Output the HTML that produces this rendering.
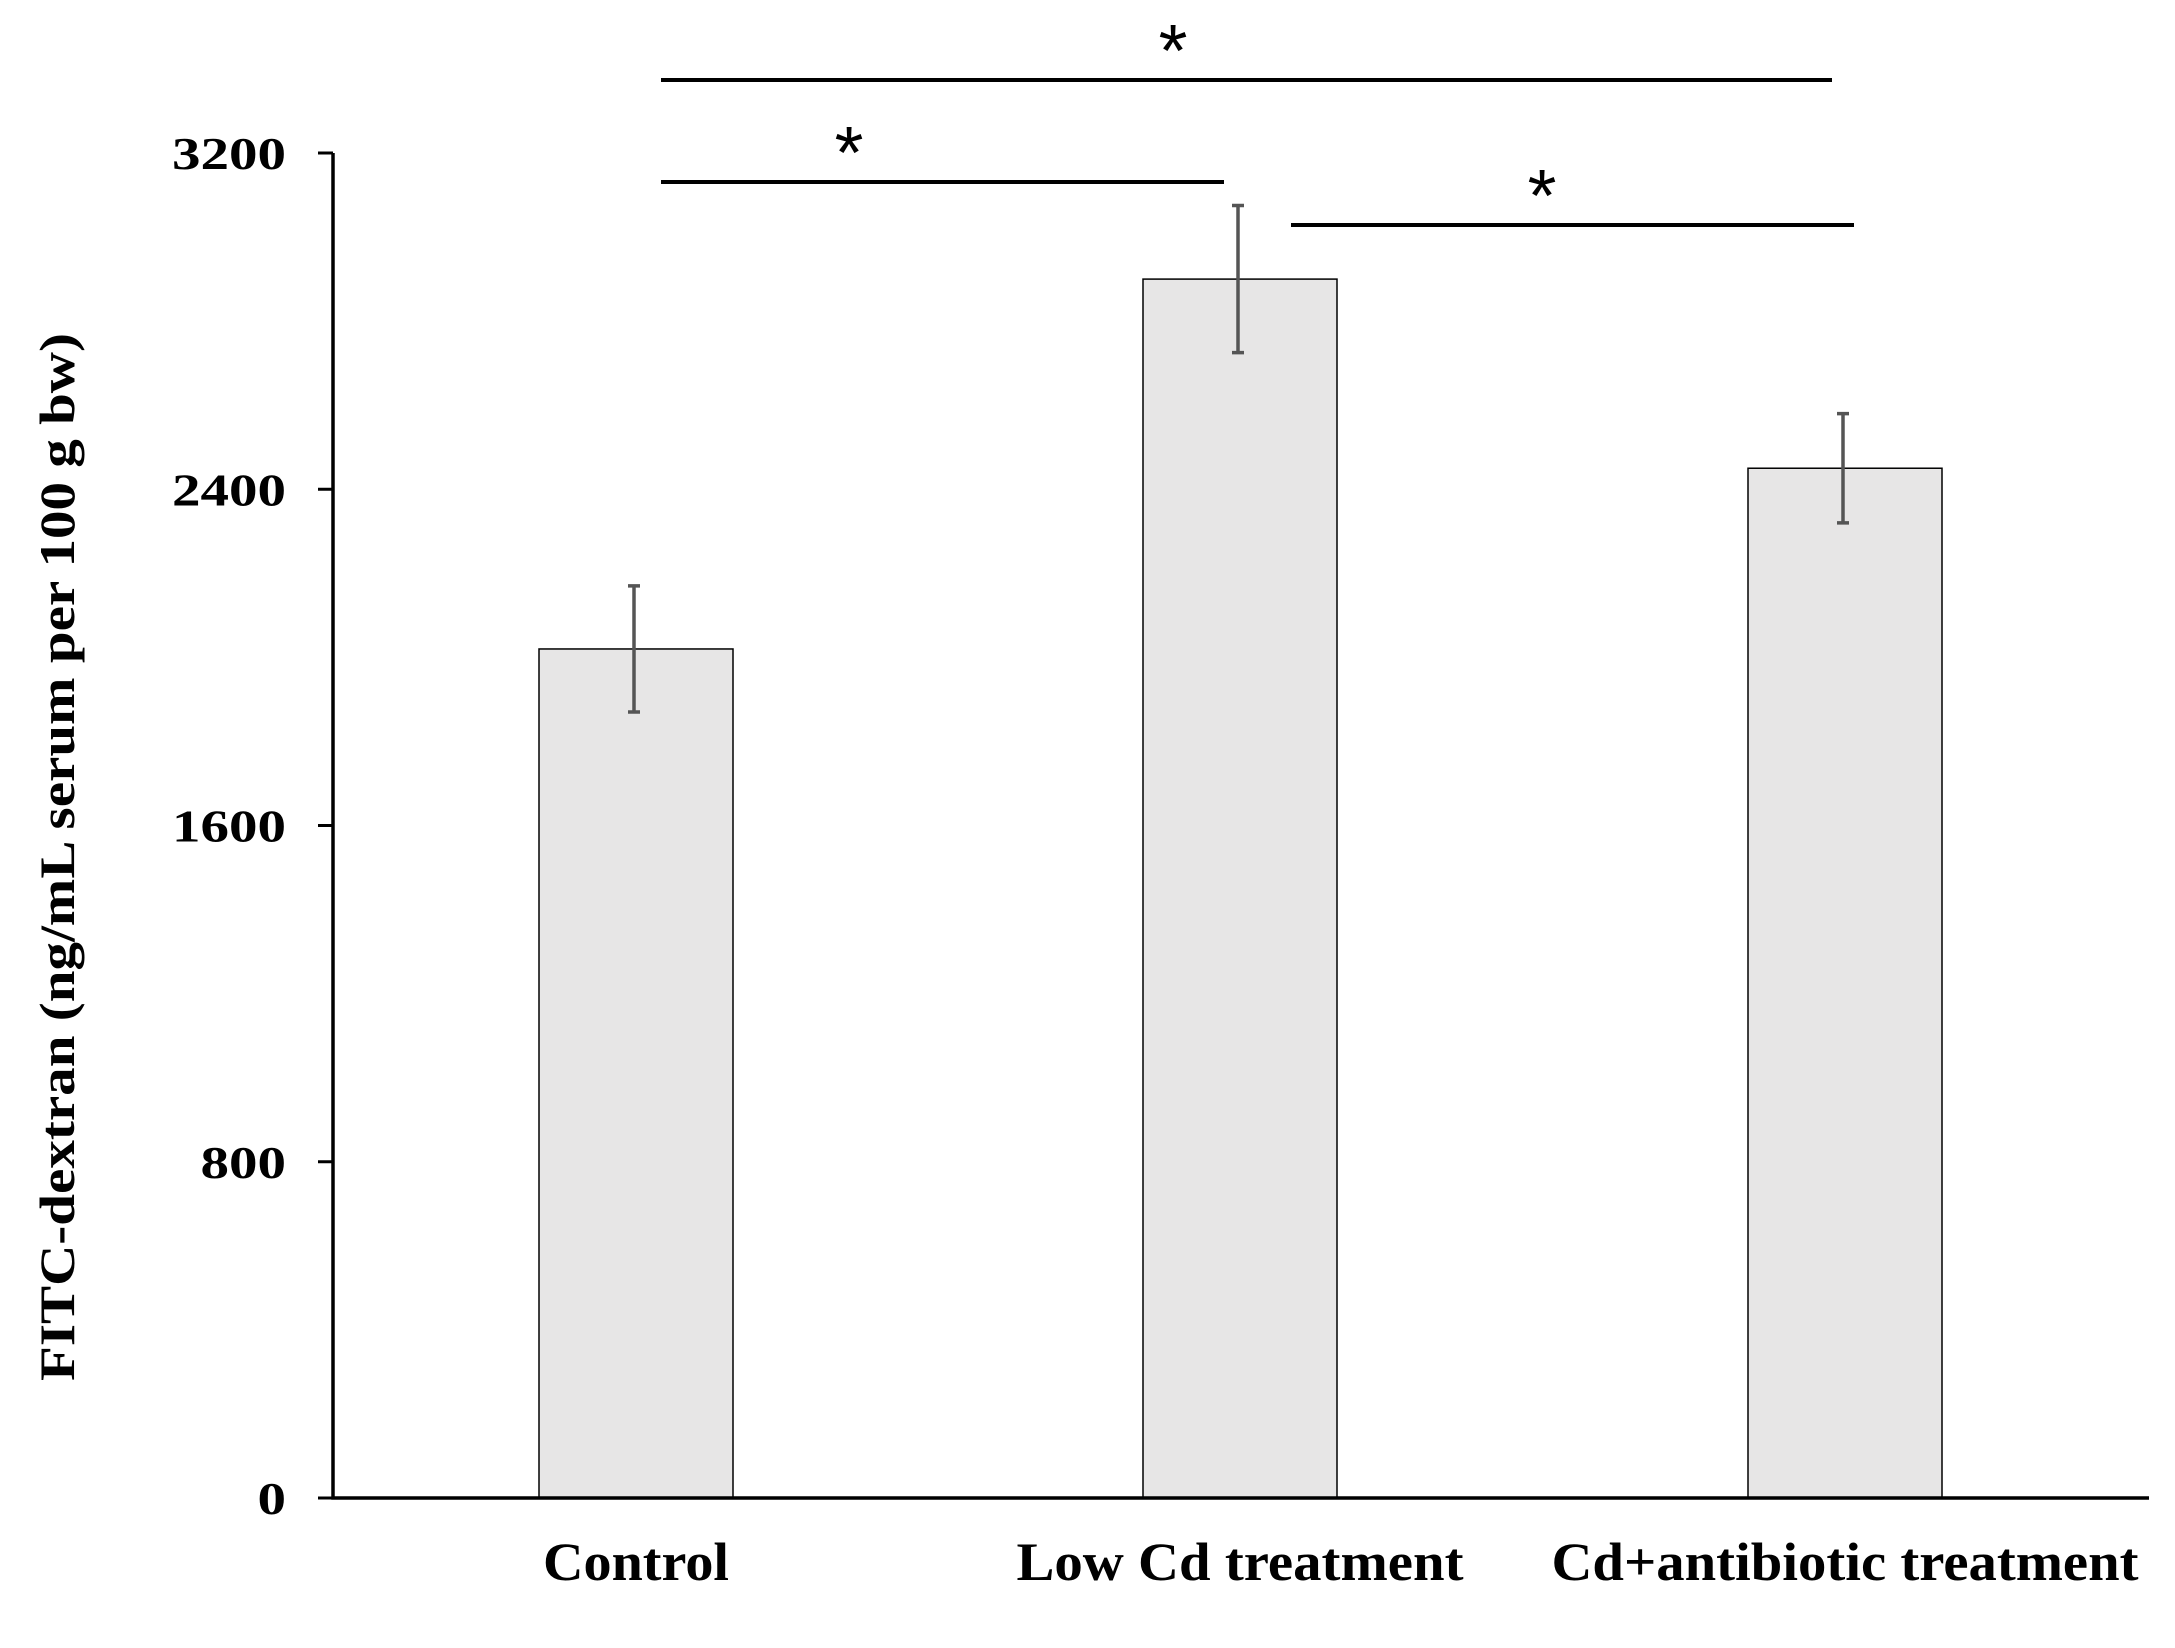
<!DOCTYPE html>
<html><head><meta charset="utf-8"><style>
html,body{margin:0;padding:0;background:#fff}
svg{display:block}
.t{font-family:"Liberation Serif",serif;font-weight:bold;fill:#000}
</style></head><body>
<svg width="2175" height="1648" viewBox="0 0 2175 1648">
<g id="plot"></g>
<text class="t" font-size="50" text-anchor="middle" textLength="1048" lengthAdjust="spacingAndGlyphs" transform="translate(74,857) rotate(-90)">FITC-dextran  (ng/mL serum per 100 g bw)</text>
</svg>
<script>
const categories = ["Control","Low Cd treatment","Cd+antibiotic treatment"];
const values = [2020, 2900, 2450];
const errors = [150, 175, 130];
const ticks = [0, 800, 1600, 2400, 3200];
const sig = [[0,2],[0,1],[1,2]];

const NS="http://www.w3.org/2000/svg";
const g=document.getElementById('plot');
const x0=333, xEnd=2149, yBase=1498, yTop=153, vMax=3200;
const y=v=>yBase-(v/vMax)*(yBase-yTop);
const centers=[636,1240,1845];
const xc=i=>centers[i];
const bw=194;
const labelW=[186,447,587];
function mk(tag,attrs){const e=document.createElementNS(NS,tag);for(const k in attrs)e.setAttribute(k,attrs[k]);g.appendChild(e);return e;}
values.forEach((v,i)=>{
  const r=mk('rect',{x:xc(i)-bw/2,y:y(v),width:bw,height:yBase-y(v),fill:'#e7e6e6',stroke:'#000','stroke-width':1.5});
  
  
  const cx=xc(i)-2;
  const e=mk('path',{d:`M${cx} ${y(v+errors[i])}V${y(v-errors[i])}M${cx-6} ${y(v+errors[i])}H${cx+6}M${cx-6} ${y(v-errors[i])}H${cx+6}`,stroke:'#555','stroke-width':3.5,fill:'none'});
  
  
  const t=mk('text',{x:xc(i),y:1580,'font-size':54,'text-anchor':'middle',class:'t',textLength:labelW[i],lengthAdjust:'spacingAndGlyphs'});
  t.textContent=categories[i];
  
  
});
ticks.forEach(v=>{
  const l=mk('line',{x1:318,x2:x0,y1:y(v),y2:y(v),stroke:'#000','stroke-width':3});
  
  
  const t=mk('text',{x:286,y:y(v)+16,'font-size':46,'text-anchor':'end',class:'t',textLength:String(v).length*28.5,lengthAdjust:'spacingAndGlyphs'});
  t.textContent=v;
  
  
});
const ax=mk('path',{d:`M${x0} ${yTop}V${yBase}H${xEnd}`,stroke:'#000','stroke-width':3.5,fill:'none'});


const sigPos=[{x1:661,x2:1832,ly:80,sx:1173},{x1:661,x2:1224,ly:182,sx:849},{x1:1291,x2:1854,ly:225,sx:1542}];
sig.forEach((s,k)=>{
  const p=sigPos[k];
  const l=mk('line',{x1:p.x1,x2:p.x2,y1:p.ly,y2:p.ly,stroke:'#000','stroke-width':4});
  
  
  const t=mk('text',{x:p.sx,y:p.ly-4,'font-size':74,'text-anchor':'middle','font-family':'Liberation Sans, sans-serif'});
  t.textContent='*';
  
  
});
</script>
</body></html>
